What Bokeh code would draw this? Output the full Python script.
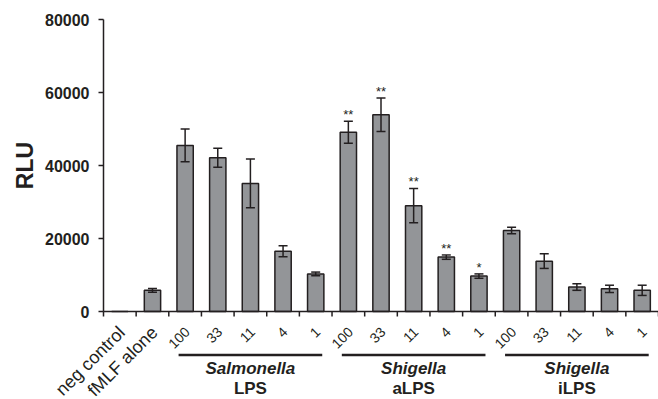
import math
from bokeh.plotting import figure
from bokeh.models import ColumnDataSource, Range1d, Whisker, TeeHead
from bokeh.embed import file_html
from bokeh.resources import INLINE
from bokeh.core.properties import value

# ---- data ----
categories = ["neg control", "fMLF alone",
              "100", "33", "11", "4", "1",
              "100", "33", "11", "4", "1",
              "100", "33", "11", "4", "1"]
rlu = [0, 5800,
       45500, 42100, 35100, 16500, 10300,
       49100, 53900, 29000, 14900, 9700,
       22200, 13800, 6700, 6200, 5800]
err = [0, 500,
       4500, 2600, 6700, 1500, 500,
       3000, 4600, 4700, 600, 600,
       900, 2000, 900, 1000, 1400]
stars = ["", "", "", "", "", "", "",
         "**", "**", "**", "**", "*",
         "", "", "", "", ""]
group_names = ["Salmonella", "Shigella", "Shigella"]
group_subs = ["LPS", "aLPS", "iLPS"]
group_start = [2, 7, 12]
group_end = [7, 12, 17]
y_ticks = [0, 20000, 40000, 60000, 80000]
y_tick_labels = ["0", "20000", "40000", "60000", "80000"]
y_title = "RLU"

DARK = "#231f20"
BAR = "#939598"
FONT = "Liberation Sans"

n = len(categories)
centers = [i + 0.5 for i in range(n)]
bounds = list(range(n + 1))

# canvas geometry (pixels)
W, H = 658, 399
AX_LEFT = 103      # pixel x of the value axis
AX_TOP = 19        # pixel y of 80000
AXIS_PX = 292      # pixel height of 0..80000
Y_MAX = 80000
PY = Y_MAX / AXIS_PX                  # data units per pixel (y)
PXX = n / (W - AX_LEFT)               # data units per pixel (x)

p = figure(width=W, height=H, output_backend="svg", toolbar_location=None,
           x_range=Range1d(-AX_LEFT * PXX, n),
           y_range=Range1d(-(H - AX_TOP - AXIS_PX) * PY, Y_MAX + AX_TOP * PY),
           min_border_left=0, min_border_right=0, min_border_top=0,
           min_border_bottom=0, x_axis_type=None, y_axis_type=None)
p.outline_line_color = None
p.grid.visible = False

# bars
src = ColumnDataSource(dict(x=centers, top=rlu, up=[v + e for v, e in zip(rlu, err)], star=stars))
p.vbar(x="x", top="top", width=0.5, bottom=0, source=src, fill_color=BAR,
       line_color=DARK, line_width=1.5)

# error bars
esrc = ColumnDataSource(dict(x=[c for c, e in zip(centers, err) if e > 0],
                             up=[v + e for v, e in zip(rlu, err) if e > 0],
                             lo=[v - e for v, e in zip(rlu, err) if e > 0]))
wh = Whisker(base="x", upper="up", lower="lo", source=esrc, line_color=DARK, line_width=1.5,
             level="annotation",
             upper_head=TeeHead(size=9, line_color=DARK, line_width=1.5),
             lower_head=TeeHead(size=9, line_color=DARK, line_width=1.5))
p.add_layout(wh)

# significance stars
p.text(x="x", y="up", text="star", source=src, text_align="center",
       text_baseline="bottom", text_font=value(FONT), text_font_size="13px",
       text_color=DARK, y_offset=1)

# value axis: line, ticks, labels, title
p.segment(x0=[0], x1=[0], y0=[0], y1=[Y_MAX], line_color=DARK, line_width=1.5)
p.segment(x0=[0] * len(y_ticks), x1=[-5 * PXX] * len(y_ticks), y0=y_ticks, y1=y_ticks,
          line_color=DARK, line_width=1.5)
p.text(x=[-14 * PXX] * len(y_ticks), y=y_ticks, text=y_tick_labels, text_align="right",
       text_baseline="middle", text_font=value(FONT), text_font_size="16px",
       text_font_style="bold", text_color=DARK)
p.text(x=[-79 * PXX], y=[Y_MAX / 2], text=[y_title], angle=math.pi / 2, text_align="center",
       text_baseline="middle", text_font=value(FONT), text_font_size="23px",
       text_font_style="bold", text_color=DARK)

# category axis: line, boundary ticks, rotated labels
p.segment(x0=[0], x1=[n], y0=[0], y1=[0], line_color=DARK, line_width=1.5)
p.segment(x0=bounds, x1=bounds, y0=[0] * len(bounds), y1=[-5 * PY] * len(bounds),
          line_color=DARK, line_width=1.5)
lab_sizes = ["14px" if c.isdigit() else "18px" for c in categories]
lsrc = ColumnDataSource(dict(x=centers, y=[-18 * PY] * n, text=categories, size=lab_sizes))
p.text(x="x", y="y", text="text", source=lsrc, angle=math.pi / 4, text_align="right",
       text_baseline="middle", text_font=value(FONT), text_font_size="size",
       text_color=DARK, x_offset=2)

# group brackets and labels
gmid = [(a + b) / 2 for a, b in zip(group_start, group_end)]
p.segment(x0=[a + 0.3 for a in group_start], x1=[b - 0.3 for b in group_end],
          y0=[-43.5 * PY] * 3, y1=[-43.5 * PY] * 3, line_color=DARK, line_width=2.5)
p.text(x=gmid, y=[-57 * PY] * 3, text=group_names, text_align="center",
       text_baseline="middle", text_font=value(FONT), text_font_size="17px",
       text_font_style="bold italic", text_color=DARK)
p.text(x=gmid, y=[-77 * PY] * 3, text=group_subs, text_align="center",
       text_baseline="middle", text_font=value(FONT), text_font_size="17px",
       text_font_style="bold", text_color=DARK)

open("out.html", "w").write(file_html(p, INLINE))
